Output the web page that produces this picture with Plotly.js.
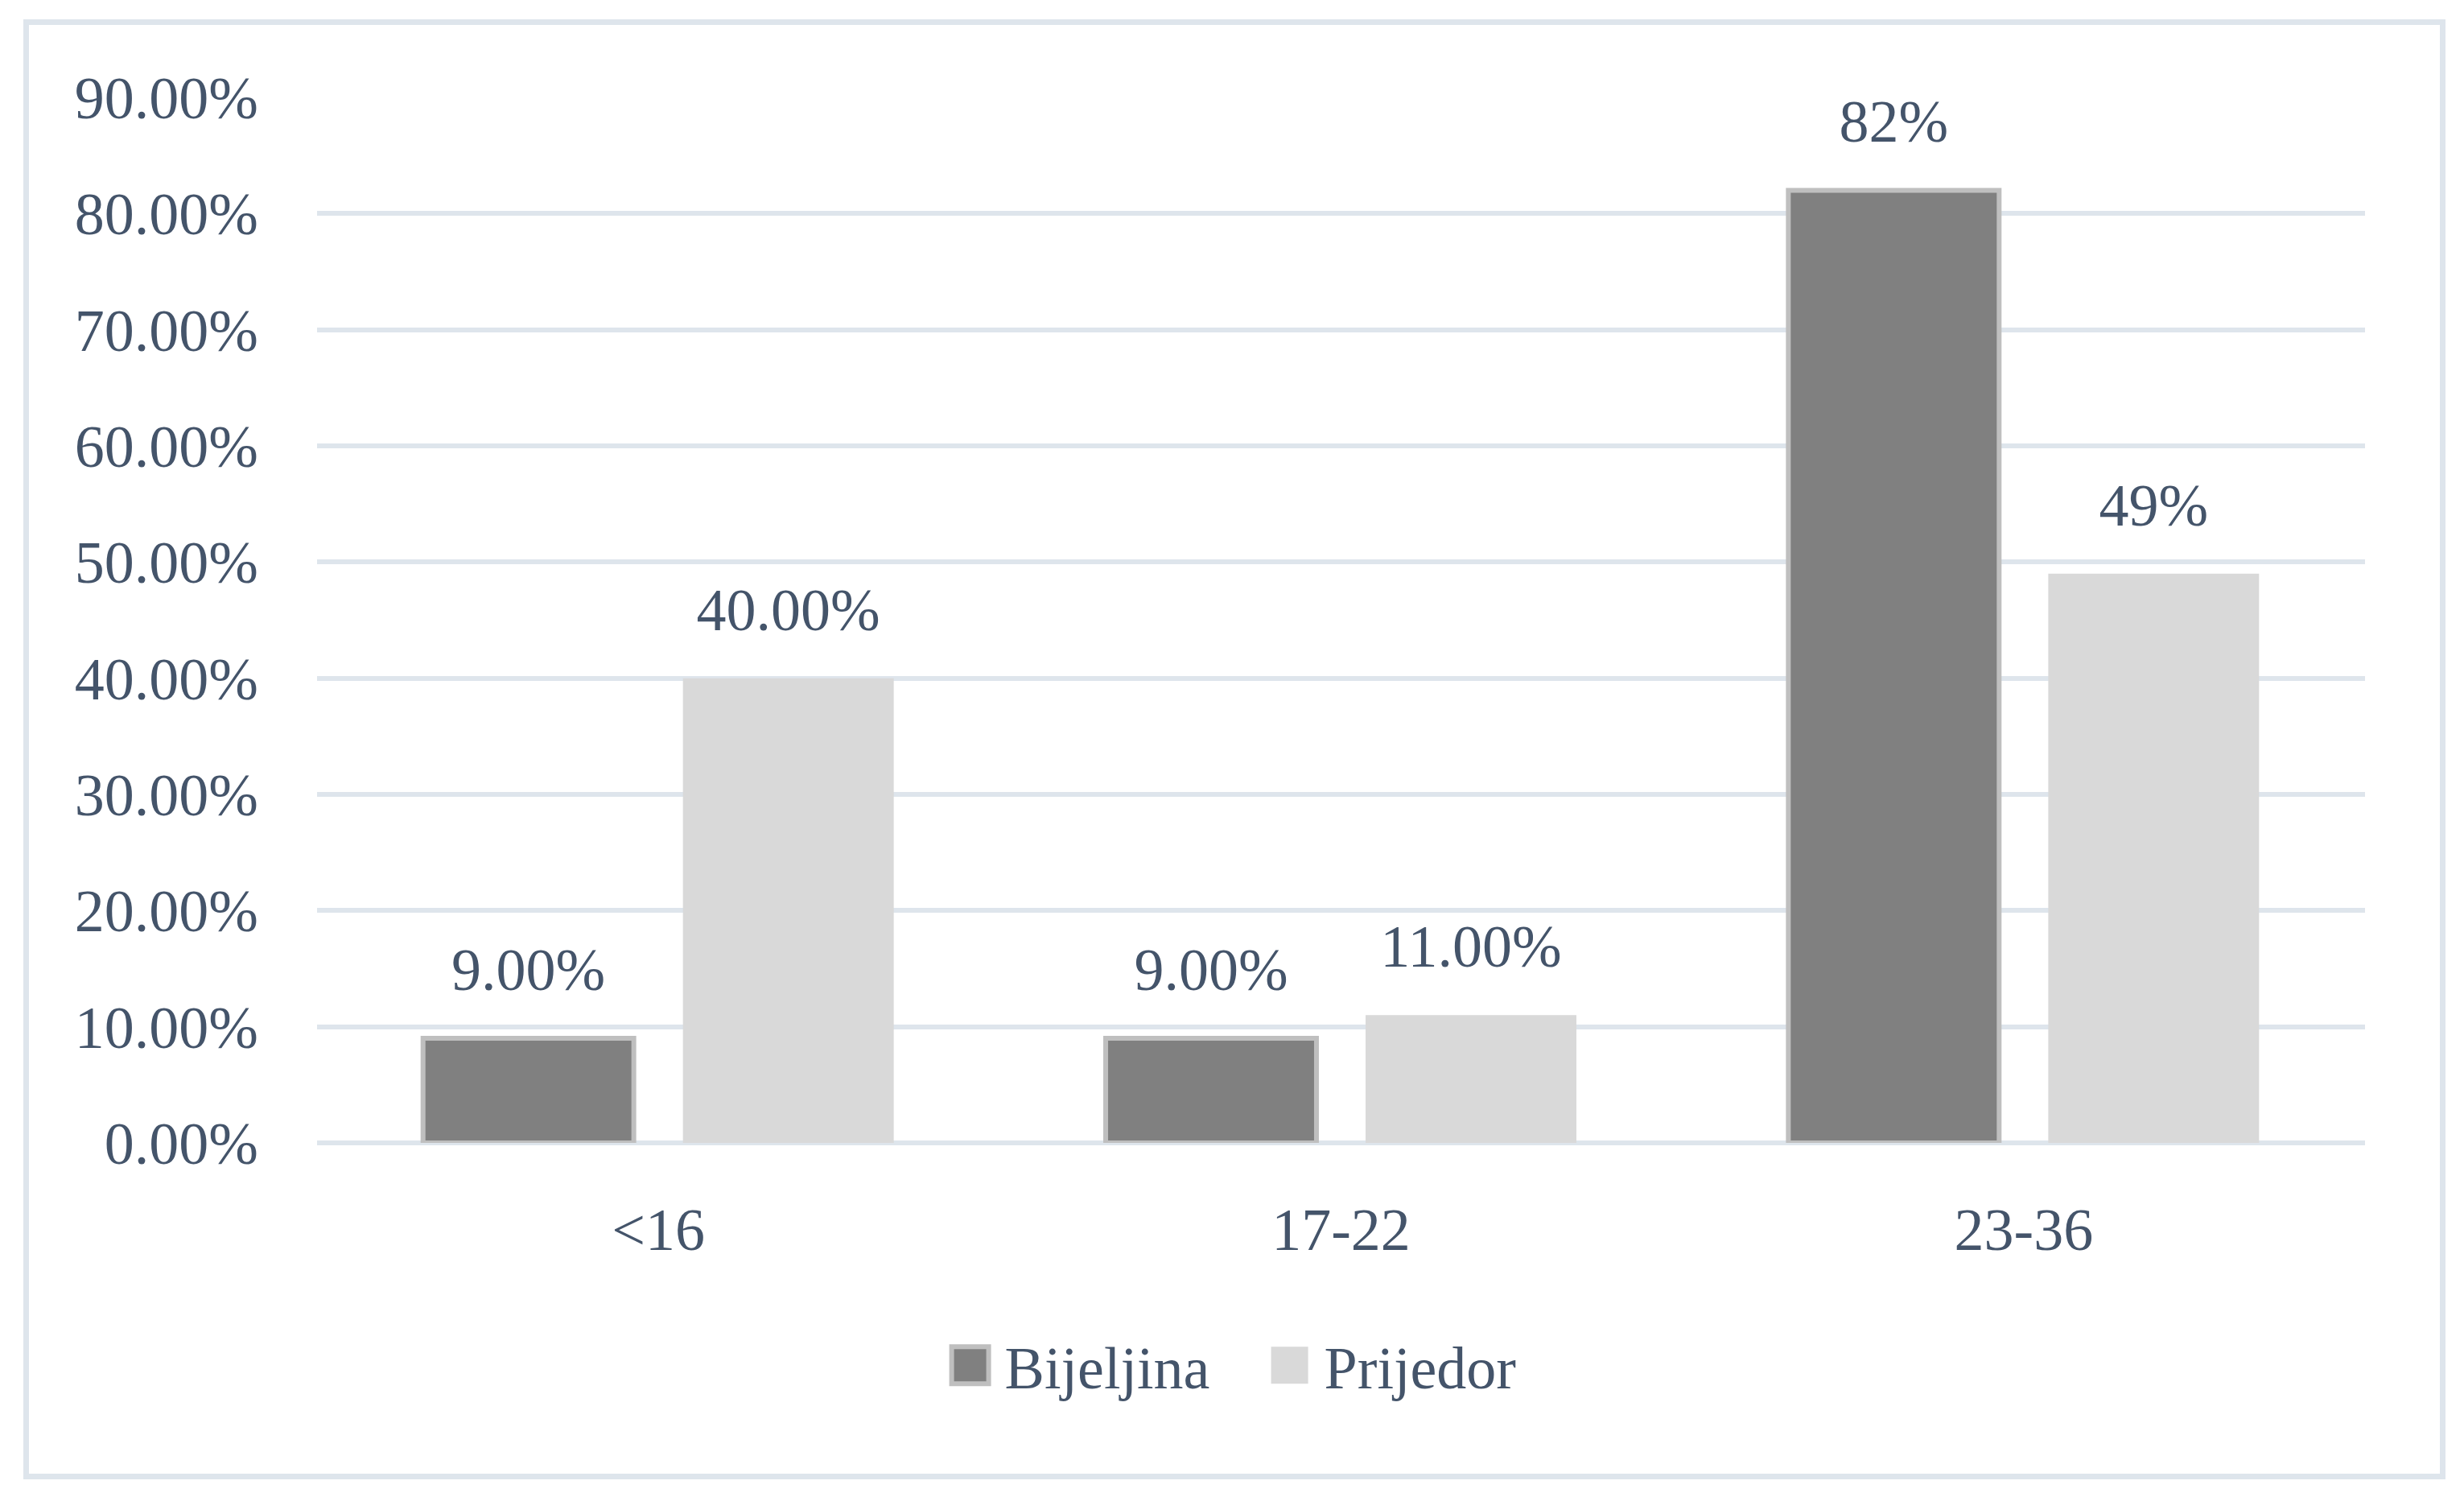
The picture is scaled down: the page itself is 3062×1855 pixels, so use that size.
<!DOCTYPE html>
<html>
<head>
<meta charset="utf-8">
<script src="https://cdn.plot.ly/plotly-3.0.1.min.js"></script>
<style>
  html, body { margin: 0; padding: 0; background: #ffffff; }
  #chart { width: 3062px; height: 1855px; position: relative; }
  #frame { position: absolute; left: 29px; top: 24px; width: 2996px; height: 1800px;
           border: 7px solid #DEE5EC; pointer-events: none; box-sizing: content-box; }
</style>
</head>
<body>
<div id="chart"></div>
<div id="frame"></div>
<script>
const categories = ["<16", "17-22", "23-36"];
const bijeljinaValues = [0.09, 0.09, 0.82];
const prijedorValues = [0.40, 0.11, 0.49];
const bijeljinaLabels = ["9.00%", "9.00%", "82%"];
const prijedorLabels = ["40.00%", "11.00%", "49%"];

const FONT = "'Liberation Serif', 'DejaVu Serif', serif";
const TEXT_COLOR = "#44546A";
const GRID_COLOR = "#DEE5EC";
const GAP = 0.2385;

function labelTrace(name, values, labels, group) {
  return {
    type: "scatter",
    mode: "markers+text",
    name: name + " labels",
    x: categories,
    y: values,
    text: labels,
    textposition: "top center",
    textfont: { family: FONT, size: 74, color: TEXT_COLOR },
    marker: { size: 65, color: "rgba(0,0,0,0)" },
    offsetgroup: group,
    cliponaxis: false,
    showlegend: false,
    hoverinfo: "skip"
  };
}

const traces = [
  {
    type: "bar",
    name: "Bijeljina",
    x: categories,
    y: bijeljinaValues,
    offsetgroup: "a",
    marker: { color: "#808080", line: { color: "#BFBFBF", width: 6 } },
    hoverinfo: "skip"
  },
  {
    type: "bar",
    name: "Prijedor",
    x: categories,
    y: prijedorValues,
    offsetgroup: "b",
    marker: { color: "#D9D9D9", line: { width: 0 } },
    hoverinfo: "skip"
  },
  labelTrace("Bijeljina", bijeljinaValues, bijeljinaLabels, "a"),
  labelTrace("Prijedor", prijedorValues, prijedorLabels, "b")
];

const layout = {
  width: 3062,
  height: 1855,
  margin: { l: 394, r: 123, t: 121, b: 435 },
  paper_bgcolor: "#ffffff",
  plot_bgcolor: "#ffffff",
  font: { family: FONT, size: 74, color: TEXT_COLOR },
  barmode: "group",
  bargap: GAP,
  bargroupgap: 0.189,
  scattermode: "group",
  scattergap: GAP,
  showlegend: true,
  legend: {
    orientation: "h",
    x: 0.302, xanchor: "left",
    y: -0.213, yanchor: "middle",
    font: { family: FONT, size: 74, color: TEXT_COLOR },
    itemwidth: 76,
    entrywidth: 306,
    entrywidthmode: "pixels",
    bgcolor: "rgba(0,0,0,0)"
  },
  xaxis: {
    type: "category",
    showgrid: false,
    showline: false,
    zeroline: false,
    ticks: "",
    ticklabelstandoff: 58,
    tickfont: { family: FONT, size: 74, color: TEXT_COLOR }
  },
  yaxis: {
    range: [0, 0.9],
    dtick: 0.1,
    tick0: 0,
    tickformat: ".2%",
    showgrid: true,
    gridcolor: GRID_COLOR,
    gridwidth: 6,
    zeroline: true,
    zerolinecolor: GRID_COLOR,
    zerolinewidth: 6,
    showline: false,
    ticks: "",
    ticklabelstandoff: 72,
    tickfont: { family: FONT, size: 74, color: TEXT_COLOR }
  }
};

Plotly.newPlot("chart", traces, layout, { displayModeBar: false, staticPlot: true }).then(function (gd) {
  const items = gd.querySelectorAll(".legend .traces");
  items.forEach(function (item, i) {
    item.querySelectorAll(".legendpoints path").forEach(function (p) {
      p.setAttribute("d", "M23,23H-23V-23H23Z");
      if (i === 0) { p.style.strokeWidth = "6px"; }
    });
  });
});
</script>
</body>
</html>
